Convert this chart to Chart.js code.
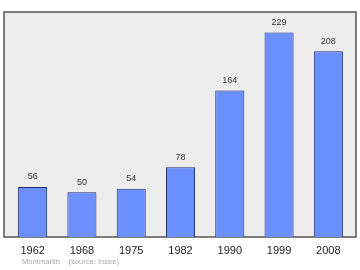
<!DOCTYPE html>
<html><head><meta charset="utf-8">
<script src="https://cdn.jsdelivr.net/npm/chart.js@4"></script>
<style>html,body{margin:0;padding:0;background:#fff}#w{width:360px;height:270px}</style>
</head><body><div id="w"><canvas id="c"></canvas></div>
<script>
const years = ["1962","1968","1975","1982","1990","1999","2008"];
const population = [56, 50, 54, 78, 164, 229, 208];
const yMax = 252;
const footer = "Montmartin    (source: Insee)";

const frame = {
  id: 'frame',
  beforeDatasetsDraw(chart) {
    const a = chart.chartArea, ctx = chart.ctx;
    const l = a.left - 4, r = a.right + 3, t = a.top, b = a.bottom;
    ctx.save();
    ctx.fillStyle = '#ededed';
    ctx.fillRect(l, t, r - l, b - t);
    ctx.strokeStyle = '#555';
    ctx.lineWidth = 1.5;
    ctx.strokeRect(l, t, r - l, b - t);
    ctx.restore();
  },
  afterDatasetsDraw(chart) {
    const ctx = chart.ctx, meta = chart.getDatasetMeta(0);
    ctx.save();
    ctx.font = '9px "Liberation Sans", Arial, sans-serif';
    ctx.fillStyle = '#333';
    ctx.textAlign = 'center';
    ctx.textBaseline = 'middle';
    meta.data.forEach((el, i) => ctx.fillText(String(population[i]), el.x, el.y - 10));
    ctx.font = '7.6px "Liberation Sans", Arial, sans-serif';
    ctx.fillStyle = '#aaa';
    ctx.textAlign = 'left';
    ctx.fillText(footer, 22, 262);
    ctx.restore();
  }
};

new Chart(document.getElementById('c'), {
  type: 'bar',
  data: { labels: years, datasets: [{ data: population, backgroundColor: '#6b8fff', borderColor: '#1f2a6e', borderWidth: 1, barPercentage: 0.59, categoryPercentage: 1 }] },
  options: {
    responsive: true, maintainAspectRatio: false, animation: false,
    layout: { padding: { left: 8, right: 7, top: 12, bottom: 0 } },
    plugins: { legend: { display: false }, tooltip: { enabled: false } },
    scales: {
      x: {
        grid: { display: false, drawTicks: false }, border: { display: false },
        ticks: { color: '#222', padding: 7, font: { family: '"Liberation Sans", Arial, sans-serif', size: 11 } },
        afterFit(s) { s.height = 33; }
      },
      y: { display: false, min: 0, max: yMax }
    }
  },
  plugins: [frame]
});
</script></body></html>
